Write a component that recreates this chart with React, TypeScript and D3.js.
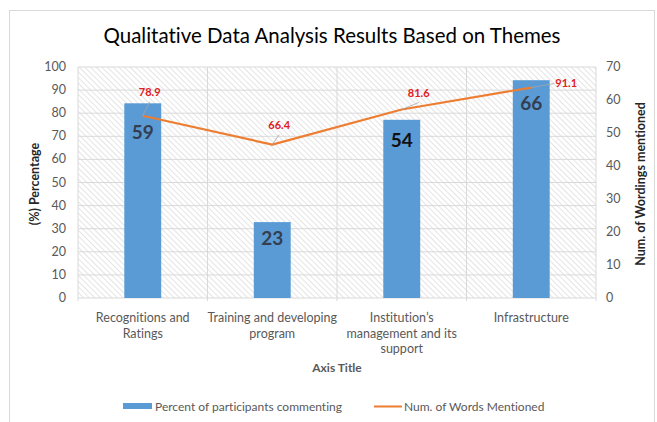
import React from 'react';
import * as d3 from 'd3';

// categories (wrapped as in the original axis)
const categories = [
  'Recognitions and Ratings',
  'Training and developing program',
  'Institution’s management and its support',
  'Infrastructure',
];
const categoryLines = [
  ['Recognitions and', 'Ratings'],
  ['Training and developing', 'program'],
  ['Institution’s', 'management and its', 'support'],
  ['Infrastructure'],
];

// bars -> right axis, line -> left axis
const wordCounts = [59, 23, 54, 66];
const percents = [78.9, 66.4, 81.6, 91.1];

const leftTicks = [0, 10, 20, 30, 40, 50, 60, 70, 80, 90, 100];
const rightTicks = [0, 10, 20, 30, 40, 50, 60, 70];

const W = 657;
const H = 422;
const FONT = 'Lato, "Open Sans", sans-serif';

const plot = { left: 78, right: 596, top: 67, bottom: 298 };

// label tweaks (pixel offsets), Excel labels were dragged by hand
const pctLabelOffset: [number, number][] = [[7, -20], [7, -16], [17, -13], [35, -1]];
const barLabelDy = [36, 23, 27, 30];

const App: React.FC = () => {
  const x = d3.scaleBand<string>().domain(categories).range([plot.left, plot.right]);
  const yL = d3.scaleLinear().domain([0, 100]).range([plot.bottom, plot.top]);
  const yR = d3.scaleLinear().domain([0, 70]).range([plot.bottom, plot.top]);
  const barW = x.bandwidth() * 0.285;
  const cx = (i: number) => (x(categories[i]) as number) + x.bandwidth() / 2;

  const line = d3.line<number>()
    .x((_, i) => cx(i))
    .y(d => yL(d));

  return (
    <div style={{ position: 'absolute', left: 0, top: 0 }}>
      <svg width={W} height={H} style={{ display: 'block', background: '#fff', fontVariantLigatures: 'none' }}>
        <defs>
          <pattern id="hatch" width="4" height="4" patternUnits="userSpaceOnUse" patternTransform="rotate(-45)">
            <line x1="0" y1="0" x2="0" y2="4" stroke="#d6d6d6" strokeWidth="1.3" />
          </pattern>
        </defs>

        <rect x={9.5} y={10.5} width={W - 12} height={H} fill="none" stroke="#d9d9d9" />

        <text x={332} y={43} textAnchor="middle" fontFamily={FONT} fontSize={22} fill="#000" textLength={457} lengthAdjust="spacingAndGlyphs">
          Qualitative Data Analysis Results Based on Themes
        </text>

        {/* plot area */}
        <rect x={plot.left} y={plot.top} width={plot.right - plot.left} height={plot.bottom - plot.top} fill="url(#hatch)" />
        {leftTicks.map(t => (
          <line key={t} x1={plot.left} x2={plot.right} y1={yL(t)} y2={yL(t)} stroke="#d9d9d9" strokeWidth={1} />
        ))}
        {categories.map((c, i) => (
          <line key={c} x1={x(c)} x2={x(c)} y1={plot.top} y2={plot.bottom + 3} stroke="#d9d9d9" />
        ))}
        <line x1={plot.right} x2={plot.right} y1={plot.top} y2={plot.bottom + 3} stroke="#d9d9d9" />

        {/* bars */}
        {wordCounts.map((v, i) => (
          <rect key={i} x={cx(i) - barW / 2} y={yR(v)} width={barW} height={plot.bottom - yR(v)} fill="#5b9bd5" />
        ))}
        {wordCounts.map((v, i) => (
          <text key={i} x={cx(i)} y={yR(v) + barLabelDy[i]} textAnchor="middle" fontFamily={FONT} fontSize={19} fontWeight={700} fill={i === 2 ? '#111' : '#333f50'}>
            {v}
          </text>
        ))}

        {/* line */}
        <path d={line(percents) || ''} fill="none" stroke="#ed7d31" strokeWidth={2.2} strokeLinejoin="round" />
        {percents.map((v, i) => {
          const [dx, dy] = pctLabelOffset[i];
          const lx = cx(i) + dx;
          const ly = yL(v) + dy;
          return (
            <g key={i}>
              <line x1={cx(i)} y1={yL(v)} x2={lx - (i === 3 ? 12 : 0)} y2={ly + (i === 3 ? -3 : 6)} stroke="#a6a6a6" strokeWidth={0.8} />
              <text x={lx} y={ly} textAnchor="middle" fontFamily={FONT} fontSize={11} fontWeight={700} fill="#e02020">
                {v.toFixed(1)}
              </text>
            </g>
          );
        })}

        {/* axes */}
        {leftTicks.map(t => (
          <text key={t} x={66} y={yL(t) + 4} textAnchor="end" fontFamily={FONT} fontSize={12.5} fill="#595959">{t}</text>
        ))}
        {rightTicks.map(t => (
          <text key={t} x={606} y={yR(t) + 4} textAnchor="start" fontFamily={FONT} fontSize={12.5} fill="#595959">{t}</text>
        ))}
        <text transform="translate(39,184) rotate(-90)" textAnchor="middle" fontFamily={FONT} fontSize={12.5} fontWeight={700} fill="#262626">
          (%) Percentage
        </text>
        <text transform="translate(645,184) rotate(-90)" textAnchor="middle" fontFamily={FONT} fontSize={12.5} fontWeight={700} fill="#262626">
          Num. of Wordings mentioned
        </text>

        {categoryLines.map((lines, i) => (
          <text key={i} textAnchor="middle" fontFamily={FONT} fontSize={12.5} fill="#595959">
            {lines.map((l, j) => (
              <tspan key={j} x={cx(i)} y={322 + j * 15.5}>{l}</tspan>
            ))}
          </text>
        ))}
        <text x={337} y={372} textAnchor="middle" fontFamily={FONT} fontSize={12} fontWeight={700} fill="#595959">Axis Title</text>

        {/* legend */}
        <rect x={123} y={403} width={29} height={6} fill="#5b9bd5" />
        <text x={155} y={411} fontFamily={FONT} fontSize={12} fill="#595959">Percent of participants commenting</text>
        <line x1={374} x2={402} y1={406.5} y2={406.5} stroke="#ed7d31" strokeWidth={2} />
        <text x={404} y={411} fontFamily={FONT} fontSize={12} fill="#595959">Num. of Words Mentioned</text>
      </svg>
    </div>
  );
};

export default App;
